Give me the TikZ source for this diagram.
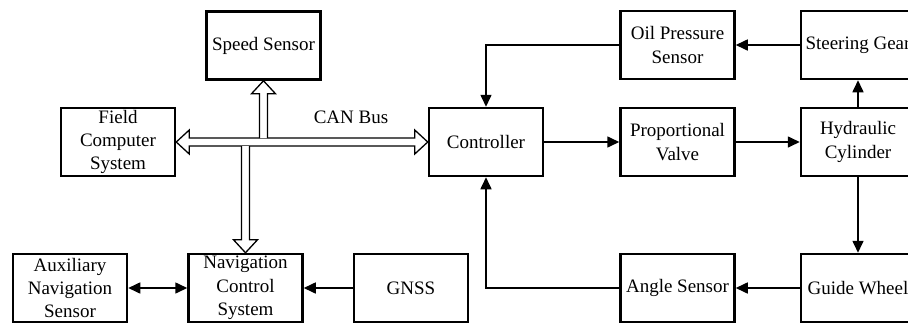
\documentclass[tikz,border=0pt]{standalone}
\usepackage{fontspec}
\setmainfont{Liberation Serif}
\usetikzlibrary{arrows.meta,calc}
\tikzset{
  blk/.style={draw,line width=2.5pt,minimum width=114pt,minimum height=68pt,inner sep=0pt,align=center,
    font=\fontsize{19pt}{23.3pt}\selectfont},
  conn/.style={line width=1.6pt,-{Triangle[length=12pt,width=11pt]}},
  hollow/.style={line width=1.3pt,fill=white},
  lbl/.style={font=\fontsize{19pt}{23.3pt}\selectfont}
}
\begin{document}
\begin{tikzpicture}[x=1pt,y=-1pt]
\useasboundingbox (0,0) rectangle (908,322);
\clip (0,0) rectangle (908,322);
\node[blk] (speed) at (263.5,45.5) {Speed Sensor};
\node[blk] (fcs) at (118,142) {Field\\Computer\\System};
\node[blk] (ctl) at (486,142) {Controller};
\node[blk] (oil) at (677.5,45) {Oil Pressure\\Sensor};
\node[blk] (steer) at (858,45) {Steering Gear};
\node[blk] (pv) at (677.5,142) {Proportional\\Valve};
\node[blk] (hyd) at (858,142) {Hydraulic\\Cylinder};
\node[blk] (aux) at (70,288) {Auxiliary\\Navigation\\Sensor};
\node[blk] (ncs) at (245.5,288) {Navigation\\Control\\System};
\node[blk] (gnss) at (411,288) {GNSS};
\node[blk] (angle) at (677.5,288) {Angle Sensor};
\node[blk] (guide) at (858,288) {Guide Wheel};
\node[lbl] (can) at (351,117) {CAN Bus};
% CAN bus hollow double arrow
\coordinate (busT) at ($(fcs.east)+(0,-4)$);
\coordinate (busB) at ($(fcs.east)+(0,4)$);
\draw[hollow] (fcs.east) -- ++(13,-12) -- ++(0,8) -- ($(ctl.west)+(-13,-4)$) -- ++(0,-8) -- (ctl.west)
  -- ++(-13,12) -- ++(0,-8) -- ($(fcs.east)+(13,4)$) -- ++(0,8) -- cycle;
% stem up to speed sensor
\draw[hollow] ($(speed.south |- busT)+(-4,0)$) -- ($(speed.south)+(-4,13)$) -- ++(-8,0) -- (speed.south)
  -- ++(12,13) -- ++(-8,0) -- ($(speed.south |- busT)+(4,0)$);
% stem down to navigation control system
\draw[hollow] ($(ncs.north |- busB)+(-4,0)$) -- ($(ncs.north)+(-4,-13)$) -- ++(-8,0) -- (ncs.north)
  -- ++(12,-13) -- ++(-8,0) -- ($(ncs.north |- busB)+(4,0)$);
% connectors
\draw[conn] (oil.west) -| (ctl.north);
\draw[conn] (steer.west) -- (oil.east);
\draw[conn] (ctl.east) -- (pv.west);
\draw[conn] (pv.east) -- (hyd.west);
\draw[conn] (hyd.north) -- (steer.south);
\draw[conn] (hyd.south) -- (guide.north);
\draw[conn] (guide.west) -- (angle.east);
\draw[conn] (angle.west) -| (ctl.south);
\draw[conn] (gnss.west) -- (ncs.east);
\draw[conn,{Triangle[length=12pt,width=11pt]}-{Triangle[length=12pt,width=11pt]}] (aux.east) -- (ncs.west);
\end{tikzpicture}
\end{document}
